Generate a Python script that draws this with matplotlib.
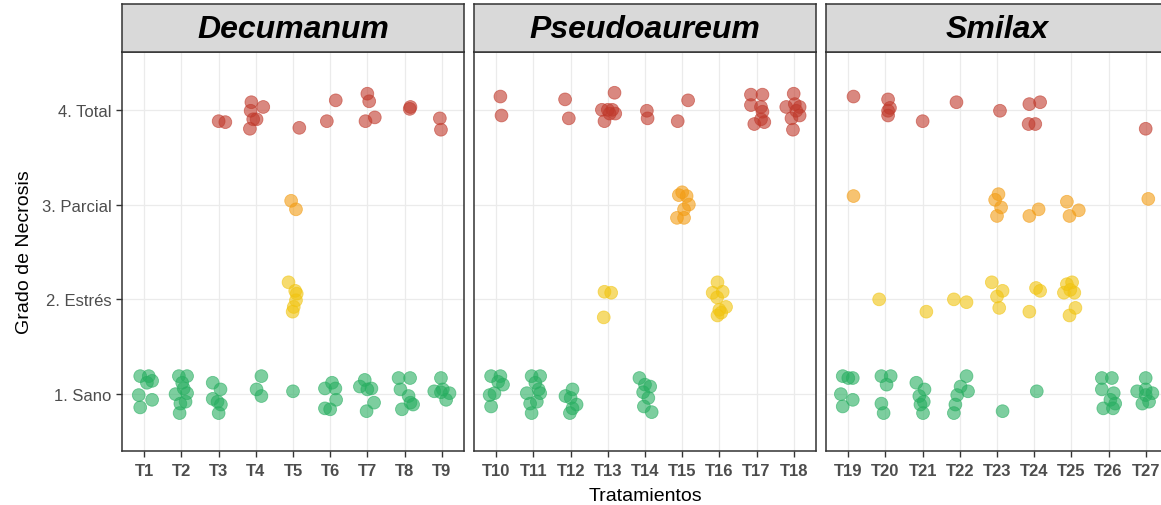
import matplotlib.pyplot as plt

# grado de necrosis: 1 sano, 2 estres, 3 parcial, 4 total
grades = ['1. Sano', '2. Estrés', '3. Parcial', '4. Total']
grade_colors = ['#27AE60', '#F1C40F', '#F39C12', '#C0392B']

species = ['Decumanum', 'Pseudoaureum', 'Smilax']

# observations per treatment: (horizontal jitter, jittered grade)
decumanum = {
    'T1': [(-0.11, 1.19), (0.12, 1.19), (0.07, 1.12), (0.21, 1.14), (-0.15, 0.99), (0.21, 0.94), (-0.11, 0.86)],
    'T2': [(-0.07, 1.19), (0.15, 1.19), (0.02, 1.12), (0.06, 1.06), (-0.16, 1.0), (0.15, 1.01),
           (-0.03, 0.9), (0.11, 0.92), (-0.05, 0.8)],
    'T3': [(0.0, 3.88), (0.18, 3.87), (-0.16, 1.12), (0.05, 1.05), (-0.16, 0.95), (-0.03, 0.92),
           (0.06, 0.89), (0.0, 0.8)],
    'T4': [(-0.12, 4.08), (-0.14, 3.99), (-0.07, 3.9), (0.02, 3.9), (-0.16, 3.8), (0.2, 4.03),
           (0.15, 1.19), (0.02, 1.05), (0.15, 0.98)],
    'T5': [(0.17, 3.81), (-0.05, 3.04), (0.08, 2.95), (-0.12, 2.18), (0.06, 2.09), (0.1, 2.06),
           (0.08, 1.99), (0.02, 1.92), (-0.01, 1.87), (0.0, 1.03)],
    'T6': [(-0.09, 3.88), (0.15, 4.1), (-0.14, 1.06), (0.05, 1.12), (0.14, 1.06), (0.16, 0.94),
           (-0.14, 0.85), (0.0, 0.84)],
    'T7': [(0.0, 4.17), (0.05, 4.09), (-0.05, 3.88), (0.2, 3.92), (-0.07, 1.15), (-0.2, 1.08),
           (0.11, 1.06), (0.0, 1.05), (0.18, 0.91), (-0.02, 0.82)],
    'T8': [(0.16, 4.03), (0.14, 4.01), (-0.16, 1.17), (0.15, 1.17), (-0.11, 1.05), (0.11, 0.98),
           (0.16, 0.91), (-0.07, 0.84), (0.23, 0.89)],
    'T9': [(-0.05, 3.91), (-0.02, 3.79), (-0.02, 1.17), (-0.2, 1.03), (0.03, 1.05), (0.21, 1.01),
           (0.12, 0.94), (-0.02, 1.02)],
}

pseudoaureum = {
    'T10': [(0.11, 4.14), (0.14, 3.94), (-0.14, 1.19), (0.11, 1.19), (0.05, 1.13), (0.18, 1.1),
            (-0.18, 0.99), (-0.05, 1.01), (-0.14, 0.87)],
    'T11': [(-0.05, 1.19), (0.18, 1.19), (0.05, 1.12), (0.14, 1.05), (-0.18, 1.01), (0.18, 1.01),
            (-0.09, 0.9), (0.09, 0.92), (-0.05, 0.8)],
    'T12': [(-0.15, 4.11), (-0.05, 3.91), (0.05, 1.05), (-0.14, 0.98), (0.0, 0.96), (0.16, 0.89),
            (0.05, 0.85), (-0.02, 0.8)],
    'T13': [(0.18, 4.18), (-0.16, 4.0), (0.0, 4.0), (0.12, 4.0), (0.05, 3.96), (-0.09, 3.88),
            (0.2, 3.96), (-0.09, 2.08), (0.09, 2.07), (-0.11, 1.81)],
    'T14': [(0.05, 3.99), (0.07, 3.91), (-0.15, 1.17), (0.0, 1.1), (0.14, 1.08), (-0.05, 1.02),
            (0.09, 0.96), (-0.03, 0.87), (0.18, 0.81)],
    'T15': [(-0.12, 3.88), (0.16, 4.1), (-0.09, 3.1), (0.12, 3.09), (0.18, 3.0), (0.05, 2.95),
            (-0.14, 2.86), (0.05, 2.86), (0.0, 3.13)],
    'T16': [(-0.05, 2.18), (-0.18, 2.07), (0.09, 2.08), (-0.06, 2.02), (0.0, 1.89), (0.18, 1.92),
            (-0.05, 1.83), (0.05, 1.86)],
    'T17': [(-0.15, 4.16), (0.16, 4.16), (-0.15, 4.05), (0.12, 4.03), (0.16, 3.98), (-0.06, 3.85),
            (0.21, 3.87), (0.12, 3.9)],
    'T18': [(0.0, 4.17), (-0.2, 4.03), (0.03, 4.06), (0.16, 4.03), (-0.06, 3.91), (0.16, 3.94),
            (-0.02, 3.79), (0.07, 3.99)],
}

smilax = {
    'T19': [(0.14, 4.14), (0.14, 3.09), (-0.15, 1.19), (0.12, 1.17), (0.0, 1.17), (-0.2, 1.0),
            (0.12, 0.94), (-0.15, 0.87)],
    'T20': [(0.07, 4.11), (0.12, 4.02), (0.07, 3.94), (0.07, 3.99), (-0.17, 2.0), (-0.11, 1.19),
            (0.14, 1.19), (0.03, 1.1), (-0.11, 0.9), (-0.05, 0.8)],
    'T21': [(0.0, 3.88), (0.1, 1.87), (-0.17, 1.12), (0.05, 1.05), (-0.09, 0.98), (0.03, 0.92),
            (-0.06, 0.89), (0.01, 0.8)],
    'T22': [(-0.09, 4.08), (-0.16, 2.0), (0.18, 1.97), (0.18, 1.19), (0.02, 1.08), (0.22, 1.03),
            (-0.07, 0.99), (-0.12, 0.89), (-0.16, 0.8)],
    'T23': [(0.08, 3.99), (0.04, 3.11), (-0.05, 3.05), (0.11, 2.97), (0.0, 2.88), (-0.14, 2.18),
            (0.15, 2.09), (0.0, 2.03), (0.06, 1.91), (0.15, 0.82)],
    'T24': [(-0.13, 4.06), (0.16, 4.08), (-0.15, 3.85), (0.03, 3.85), (-0.13, 2.88), (0.12, 2.95),
            (-0.13, 1.87), (0.05, 2.12), (0.16, 2.09), (0.07, 1.03)],
    'T25': [(-0.12, 3.03), (-0.05, 2.88), (0.2, 2.94), (-0.12, 2.16), (0.02, 2.18), (-0.2, 2.07),
            (0.08, 2.07), (-0.03, 2.1), (0.11, 1.91), (-0.05, 1.83)],
    'T26': [(-0.18, 1.17), (0.09, 1.17), (-0.18, 1.05), (0.14, 1.01), (0.05, 0.94), (-0.14, 0.85),
            (0.18, 0.9), (0.12, 0.85)],
    'T27': [(0.0, 3.8), (0.07, 3.06), (0.0, 1.17), (-0.23, 1.03), (0.0, 1.05), (0.18, 1.01),
            (0.09, 0.92), (-0.09, 0.9), (0.0, 0.99)],
}

panels = [decumanum, pseudoaureum, smilax]

W, H = 1161, 506
fig = plt.figure(figsize=(W / 100, H / 100), dpi=100)
plt.rcParams['font.family'] = ['Liberation Sans', 'DejaVu Sans']

lefts = [122, 474, 826]
pw = 342
top, bottom = 53, 452
strip_top = 5


def px_box(x0, y0, x1, y1):
    return [x0 / W, 1 - y1 / H, (x1 - x0) / W, (y1 - y0) / H]


for k, (name, data) in enumerate(zip(species, panels)):
    left = lefts[k]
    ax = fig.add_axes(px_box(left, top, left + pw, bottom))
    trts = list(data.keys())
    for i, t in enumerate(trts):
        xs = [i + 1 + dx for dx, y in data[t]]
        ys = [y for dx, y in data[t]]
        cols = [grade_colors[int(round(y)) - 1] for y in ys]
        ax.scatter(xs, ys, s=85, c=cols, alpha=0.6, edgecolors=cols, linewidths=0.6, zorder=3)
    ax.set_xlim(0.4, len(trts) + 0.6)
    ax.set_ylim(0.4, 4.61)
    ax.set_xticks(range(1, len(trts) + 1))
    ax.set_xticklabels(trts, fontsize=12, fontweight='bold', color='#4D4D4D')
    ax.set_yticks([1, 2, 3, 4])
    ax.grid(True, color='#EBEBEB', linewidth=0.9, zorder=0)
    ax.set_axisbelow(True)
    for sp in ax.spines.values():
        sp.set_color('#333333')
        sp.set_linewidth(1.1)
    ax.tick_params(colors='#333333', length=4, width=1, labelcolor='#4D4D4D')
    ax.tick_params(axis='x', pad=5)
    if k == 0:
        ax.set_yticklabels(grades, fontsize=12, color='#4D4D4D')
        ax.set_ylabel('Grado de Necrosis', fontsize=14, labelpad=6)
    else:
        ax.set_yticklabels([])
        ax.tick_params(axis='y', length=0)
    if k == 1:
        ax.set_xlabel('Tratamientos', fontsize=14, labelpad=6)

    sax = fig.add_axes(px_box(left, strip_top, left + pw, top))
    sax.set_facecolor('#D9D9D9')
    sax.set_xticks([])
    sax.set_yticks([])
    for sp in sax.spines.values():
        sp.set_color('#333333')
        sp.set_linewidth(1.1)
    sax.text(0.5, 0.48, name, transform=sax.transAxes, ha='center', va='center',
             fontsize=23, fontweight='bold', fontstyle='italic', color='black')

fig.savefig('out.png', dpi=100)
